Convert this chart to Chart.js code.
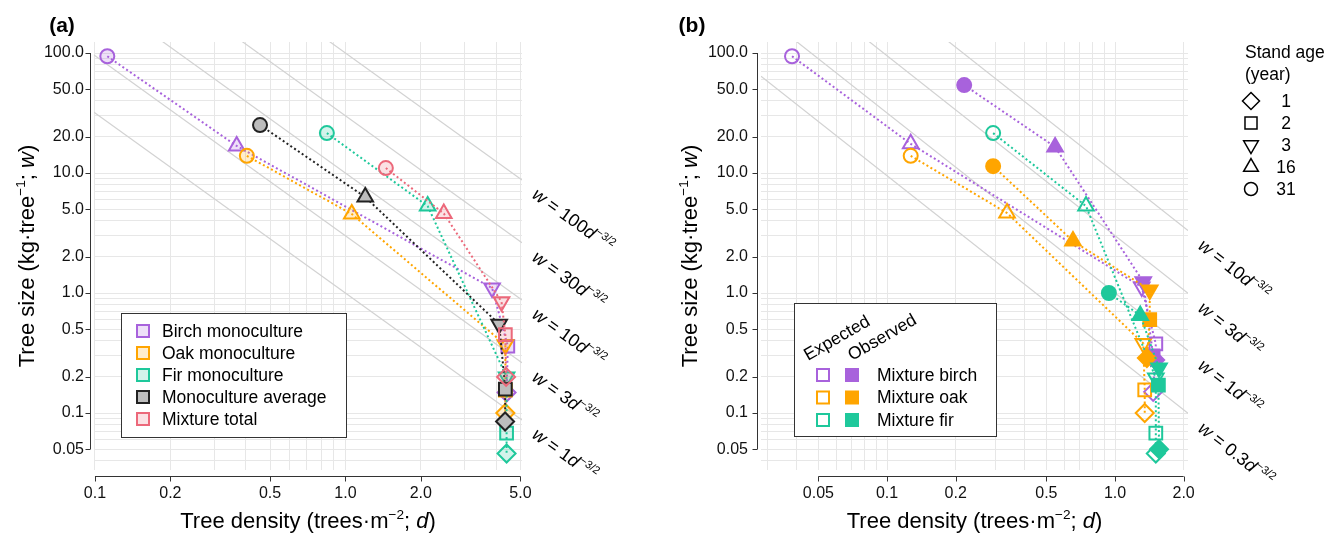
<!DOCTYPE html>
<html>
<head>
<meta charset="utf-8">
<script src="https://cdn.jsdelivr.net/npm/chart.js@4.4.1/dist/chart.umd.min.js"></script>
<style>
  body { margin: 0; background: #fff; width: 1340px; height: 536px; overflow: hidden; position: relative; }
  canvas { position: absolute; top: 0; }
  #chartA { left: 0; }
  #chartB { left: 640px; }
</style>
</head>
<body>
<canvas id="chartA" width="640" height="536"></canvas>
<canvas id="chartB" width="700" height="536"></canvas>
<script>
// ---------- data ----------
const ages = [31, 16, 3, 2, 1];

// panel (a): monocultures, their average, and the mixture total
const birchMonoD = [0.112, 0.368, 3.85, 4.45, 4.4];
const birchMonoW = [94, 16.8, 1.10, 0.36, 0.148];
const oakMonoD = [0.404, 1.06, 4.35, 4.35, 4.35];
const oakMonoW = [13.9, 4.55, 0.37, 0.155, 0.10];
const firMonoD = [0.843, 2.13, 4.4, 4.4, 4.4];
const firMonoW = [21.5, 5.3, 0.20, 0.068, 0.046];
const avgMonoD = [0.456, 1.20, 4.11, 4.35, 4.34];
const avgMonoW = [25.1, 6.3, 0.55, 0.158, 0.085];
const mixTotalD = [1.45, 2.47, 4.2, 4.35, 4.38];
const mixTotalW = [11.0, 4.6, 0.846, 0.45, 0.20];

// panel (b): species in mixture, expected vs observed
const birchExpD = [0.0383, 0.127, 1.31, 1.51, 1.47];
const birchExpW = [94, 17.5, 1.12, 0.376, 0.15];
const oakExpD = [0.127, 0.336, 1.33, 1.35, 1.35];
const oakExpW = [13.9, 4.64, 0.38, 0.156, 0.10];
const firExpD = [0.292, 0.746, 1.51, 1.51, 1.51];
const firExpW = [21.5, 5.3, 0.196, 0.068, 0.046];
const birchObsD = [0.218, 0.546, 1.33, 1.47, 1.50];
const birchObsW = [54, 16.5, 1.24, 0.30, 0.277];
const oakObsD = [0.292, 0.654, 1.42, 1.42, 1.38];
const oakObsW = [11.4, 2.71, 1.06, 0.60, 0.287];
const firObsD = [0.94, 1.29, 1.56, 1.55, 1.56];
const firObsW = [1.0, 0.65, 0.237, 0.171, 0.05];

// axes
const xTicksA = [0.1, 0.2, 0.5, 1, 2, 5];
const xLabelsA = ['0.1', '0.2', '0.5', '1.0', '2.0', '5.0'];
const xTicksB = [0.05, 0.1, 0.2, 0.5, 1, 2];
const xLabelsB = ['0.05', '0.1', '0.2', '0.5', '1.0', '2.0'];
const yTicks = [0.05, 0.1, 0.2, 0.5, 1, 2, 5, 10, 20, 50, 100];
const yLabels = ['0.05', '0.1', '0.2', '0.5', '1.0', '2.0', '5.0', '10.0', '20.0', '50.0', '100.0'];

// self-thinning guide lines w = k d^-3/2
const guideA = [100, 30, 10, 3, 1];
const guideB = [10, 3, 1, 0.3];

// ---------- styles ----------
const FONT = '"Liberation Sans", Arial, Helvetica, sans-serif';
const PURPLE = '#a862dc', ORANGE = '#ffa500', GREEN = '#1ec89b', PINK = '#ec687a', DARK = '#222222';
const tint = (hex, a) => {
  const n = parseInt(hex.slice(1), 16);
  return `rgba(${n >> 16},${(n >> 8) & 255},${n & 255},${a})`;
};
const AGE_STYLE = ['circle', 'triangle', 'triangle', 'rect', 'rectRot'];
const AGE_ROT = [0, 0, 180, 0, 0];
const AGE_R = [7, 9, 9, 9, 9];

const Y_RANGE = [0.0335, 123.5];
const X_RANGE_A = [0.0991, 5.07];
const X_RANGE_B = [0.028, 2.09];

function gridValues(min, max) {
  const out = [];
  for (let e = Math.floor(Math.log10(min)); e <= Math.ceil(Math.log10(max)); e++) {
    for (let m = 1; m <= 9; m++) {
      const v = +(m * Math.pow(10, e)).toPrecision(6);
      if (v >= min && v <= max) out.push(v);
    }
  }
  return out;
}

function labelFor(v, ticks, labels) {
  const i = ticks.findIndex(t => Math.abs(Math.log10(v / t)) < 1e-6);
  return i < 0 ? '' : labels[i];
}

function logScale(range, ticks, labels, isY, size, pad) {
  return {
    type: 'logarithmic',
    min: range[0],
    max: range[1],
    bounds: 'data',
    afterBuildTicks: s => { s.ticks = gridValues(range[0], range[1]).map(v => ({ value: v })); },
    afterFit: s => { if (isY) s.width = size; else s.height = size; },
    ticks: {
      autoSkip: false, maxRotation: 0, minRotation: 0, padding: pad,
      color: '#111', font: { family: FONT, size: 16 },
      callback: v => labelFor(v, ticks, labels)
    },
    grid: { color: '#e7e7e7', lineWidth: 1, drawTicks: false },
    border: { display: false }
  };
}

function series(d, w, color, fill, order) {
  return {
    data: d.map((v, i) => ({ x: v, y: w[i] })),
    showLine: true,
    borderColor: color, borderWidth: 2, borderDash: [2, 2.6],
    pointStyle: AGE_STYLE, pointRotation: AGE_ROT, pointRadius: AGE_R,
    pointBorderColor: color, pointBackgroundColor: fill, pointBorderWidth: 2,
    clip: false, order: order
  };
}

function guide(k, xr) {
  return {
    data: [{ x: xr[0], y: k * Math.pow(xr[0], -1.5) }, { x: xr[1], y: k * Math.pow(xr[1], -1.5) }],
    showLine: true, borderColor: '#d2d2d2', borderWidth: 1.2,
    pointRadius: 0, clip: 0, order: 20
  };
}

// ---------- text helpers ----------
function drawRich(ctx, x, y, segs, size, angle, align) {
  ctx.save();
  ctx.translate(x, y);
  if (angle) ctx.rotate(angle);
  ctx.fillStyle = '#000';
  ctx.textAlign = 'left';
  ctx.textBaseline = 'alphabetic';
  const font = s => (s.i ? 'italic ' : '') + (s.b ? 'bold ' : '') + (s.sup ? size * 0.62 : size) + 'px ' + FONT;
  let total = 0;
  for (const s of segs) { ctx.font = font(s); total += ctx.measureText(s.t).width; }
  let cx = align === 'center' ? -total / 2 : 0;
  for (const s of segs) {
    ctx.font = font(s);
    ctx.fillText(s.t, cx, s.sup ? -size * 0.42 : 0);
    cx += ctx.measureText(s.t).width;
  }
  ctx.restore();
}

function marker(ctx, style, x, y, r, rot) {
  ctx.beginPath();
  if (style === 'circle') {
    ctx.arc(x, y, r, 0, Math.PI * 2);
  } else if (style === 'rect') {
    const s = r * Math.SQRT1_2;
    ctx.rect(x - s, y - s, 2 * s, 2 * s);
  } else if (style === 'rectRot') {
    ctx.moveTo(x, y - r); ctx.lineTo(x + r, y); ctx.lineTo(x, y + r); ctx.lineTo(x - r, y); ctx.closePath();
  } else {
    let a = rot ? Math.PI : 0;
    ctx.moveTo(x + Math.sin(a) * r, y - Math.cos(a) * r);
    a += Math.PI * 2 / 3;
    ctx.lineTo(x + Math.sin(a) * r, y - Math.cos(a) * r);
    a += Math.PI * 2 / 3;
    ctx.lineTo(x + Math.sin(a) * r, y - Math.cos(a) * r);
    ctx.closePath();
  }
}

function drawAxes(chart, xt, yt) {
  const { ctx, chartArea: a, scales: { x, y } } = chart;
  ctx.save();
  ctx.strokeStyle = '#333';
  ctx.lineWidth = 1;
  ctx.beginPath();
  const ax = Math.round(a.left - 4) + 0.5;
  ctx.moveTo(ax, y.getPixelForValue(yt[0]));
  ctx.lineTo(ax, y.getPixelForValue(yt[yt.length - 1]));
  yt.forEach(v => { const p = Math.round(y.getPixelForValue(v)) + 0.5; ctx.moveTo(ax, p); ctx.lineTo(ax - 5, p); });
  const ay = Math.round(a.bottom + 6) + 0.5;
  ctx.moveTo(x.getPixelForValue(xt[0]), ay);
  ctx.lineTo(x.getPixelForValue(xt[xt.length - 1]), ay);
  xt.forEach(v => { const p = Math.round(x.getPixelForValue(v)) + 0.5; ctx.moveTo(p, ay); ctx.lineTo(p, ay + 5); });
  ctx.stroke();
  ctx.restore();
}

function drawGuideLabels(chart, ks) {
  const { ctx, scales: { x, y } } = chart;
  const xr = x.max;
  ks.forEach(k => {
    const px = x.getPixelForValue(xr), py = y.getPixelForValue(k * Math.pow(xr, -1.5));
    const px2 = x.getPixelForValue(xr / 4), py2 = y.getPixelForValue(k * Math.pow(xr / 4, -1.5));
    const ang = Math.atan2(py - py2, px - px2);
    drawRich(ctx, px + 9, py + 17, [
      { t: 'w', i: true }, { t: ' = ' + k }, { t: 'd', i: true }, { t: '\u22123/2', sup: true }
    ], 18, ang);
  });
}

function drawTitles(chart, xCenter, yCenterX) {
  const { ctx, chartArea: a } = chart;
  drawRich(ctx, xCenter, 528, [
    { t: 'Tree density (trees\u00b7m' }, { t: '\u22122', sup: true }, { t: '; ' }, { t: 'd', i: true }, { t: ')' }
  ], 22, 0, 'center');
  drawRich(ctx, yCenterX, (a.top + a.bottom) / 2, [
    { t: 'Tree size (kg\u00b7tree' }, { t: '\u22121', sup: true }, { t: '; ' }, { t: 'w', i: true }, { t: ')' }
  ], 22, -Math.PI / 2, 'center');
}

// ---------- panel (a) ----------
const legendA = [
  ['Birch monoculture', PURPLE, tint(PURPLE, 0.2)],
  ['Oak monoculture', ORANGE, tint(ORANGE, 0.2)],
  ['Fir monoculture', GREEN, tint(GREEN, 0.2)],
  ['Monoculture average', DARK, '#bdbdbd'],
  ['Mixture total', PINK, tint(PINK, 0.2)]
];

const decorA = {
  id: 'decorA',
  afterDraw(chart) {
    const ctx = chart.ctx;
    drawAxes(chart, xTicksA, yTicks);
    drawGuideLabels(chart, guideA);
    drawTitles(chart, (chart.chartArea.left + chart.chartArea.right) / 2, 34);
    drawRich(ctx, 62, 32, [{ t: '(a)', b: true }], 21, 0, 'center');
    ctx.save();
    ctx.fillStyle = '#fff';
    ctx.fillRect(121, 313, 225, 124);
    ctx.strokeStyle = '#333';
    ctx.lineWidth = 1;
    ctx.strokeRect(121.5, 313.5, 225, 124);
    ctx.font = '17.5px ' + FONT;
    ctx.textBaseline = 'middle';
    legendA.forEach(([txt, col, fill], i) => {
      const yy = 331 + i * 22;
      ctx.fillStyle = fill;
      ctx.fillRect(137, yy - 6, 12, 12);
      ctx.strokeStyle = col;
      ctx.lineWidth = 2;
      ctx.strokeRect(137, yy - 6, 12, 12);
      ctx.fillStyle = '#000';
      ctx.fillText(txt, 162, yy + 1);
    });
    ctx.restore();
  }
};

new Chart(document.getElementById('chartA'), {
  type: 'scatter',
  data: {
    datasets: [
      ...guideA.map(k => guide(k, X_RANGE_A)),
      series(birchMonoD, birchMonoW, PURPLE, tint(PURPLE, 0.2), 5),
      series(oakMonoD, oakMonoW, ORANGE, tint(ORANGE, 0.2), 4),
      series(firMonoD, firMonoW, GREEN, tint(GREEN, 0.2), 3),
      series(avgMonoD, avgMonoW, DARK, '#bdbdbd', 2),
      series(mixTotalD, mixTotalW, PINK, tint(PINK, 0.2), 1)
    ]
  },
  options: {
    responsive: false, animation: false, events: [],
    layout: { padding: { left: 0, right: 118, top: 42, bottom: 0 } },
    plugins: { legend: { display: false }, tooltip: { enabled: false } },
    scales: {
      x: logScale(X_RANGE_A, xTicksA, xLabelsA, false, 66, 14),
      y: logScale(Y_RANGE, yTicks, yLabels, true, 94, 10)
    }
  },
  plugins: [decorA]
});

// ---------- panel (b) ----------
const legendB = [
  ['Mixture birch', PURPLE],
  ['Mixture oak', ORANGE],
  ['Mixture fir', GREEN]
];
const ageLegend = [
  ['1', 'rectRot', 0], ['2', 'rect', 0], ['3', 'triangle', 1], ['16', 'triangle', 0], ['31', 'circle', 0]
];

const decorB = {
  id: 'decorB',
  afterDraw(chart) {
    const ctx = chart.ctx;
    drawAxes(chart, xTicksB, yTicks);
    drawGuideLabels(chart, guideB);
    drawTitles(chart, (chart.chartArea.left + chart.chartArea.right) / 2, 57);
    drawRich(ctx, 52, 32, [{ t: '(b)', b: true }], 21, 0, 'center');

    ctx.save();
    ctx.fillStyle = '#fff';
    ctx.fillRect(154, 303, 202, 133);
    ctx.strokeStyle = '#333';
    ctx.lineWidth = 1;
    ctx.strokeRect(154.5, 303.5, 202, 133);
    ctx.restore();
    drawRich(ctx, 168, 361, [{ t: 'Expected' }], 17.5, -Math.PI / 6);
    drawRich(ctx, 212, 361, [{ t: 'Observed' }], 17.5, -Math.PI / 6);
    ctx.save();
    ctx.font = '17.5px ' + FONT;
    ctx.textBaseline = 'middle';
    legendB.forEach(([txt, col], i) => {
      const yy = 375 + i * 22.5;
      ctx.lineWidth = 2;
      ctx.strokeStyle = col;
      ctx.strokeRect(177, yy - 6, 12, 12);
      ctx.fillStyle = col;
      ctx.fillRect(205, yy - 7, 14, 14);
      ctx.fillStyle = '#000';
      ctx.fillText(txt, 237, yy + 1);
    });

    // stand age key
    ctx.fillText('Stand age', 605, 53);
    ctx.fillText('(year)', 605, 75);
    ctx.textAlign = 'center';
    ctx.strokeStyle = '#000';
    ctx.lineWidth = 1.5;
    ageLegend.forEach(([txt, st, rot], i) => {
      const yy = 101 + i * 22;
      marker(ctx, st, 611, yy, st === 'circle' ? 6.5 : 8.5, rot);
      ctx.stroke();
      ctx.fillStyle = '#000';
      ctx.fillText(txt, 646, yy + 1);
    });
    ctx.restore();
  }
};

new Chart(document.getElementById('chartB'), {
  type: 'scatter',
  data: {
    datasets: [
      ...guideB.map(k => guide(k, X_RANGE_B)),
      series(birchExpD, birchExpW, PURPLE, 'rgba(255,255,255,0)', 6),
      series(oakExpD, oakExpW, ORANGE, 'rgba(255,255,255,0)', 5),
      series(firExpD, firExpW, GREEN, 'rgba(255,255,255,0)', 4),
      series(birchObsD, birchObsW, PURPLE, PURPLE, 3),
      series(oakObsD, oakObsW, ORANGE, ORANGE, 2),
      series(firObsD, firObsW, GREEN, GREEN, 1)
    ]
  },
  options: {
    responsive: false, animation: false, events: [],
    layout: { padding: { left: 0, right: 152, top: 42, bottom: 0 } },
    plugins: { legend: { display: false }, tooltip: { enabled: false } },
    scales: {
      x: logScale(X_RANGE_B, xTicksB, xLabelsB, false, 66, 14),
      y: logScale(Y_RANGE, yTicks, yLabels, true, 121, 13)
    }
  },
  plugins: [decorB]
});
</script>
</body>
</html>
